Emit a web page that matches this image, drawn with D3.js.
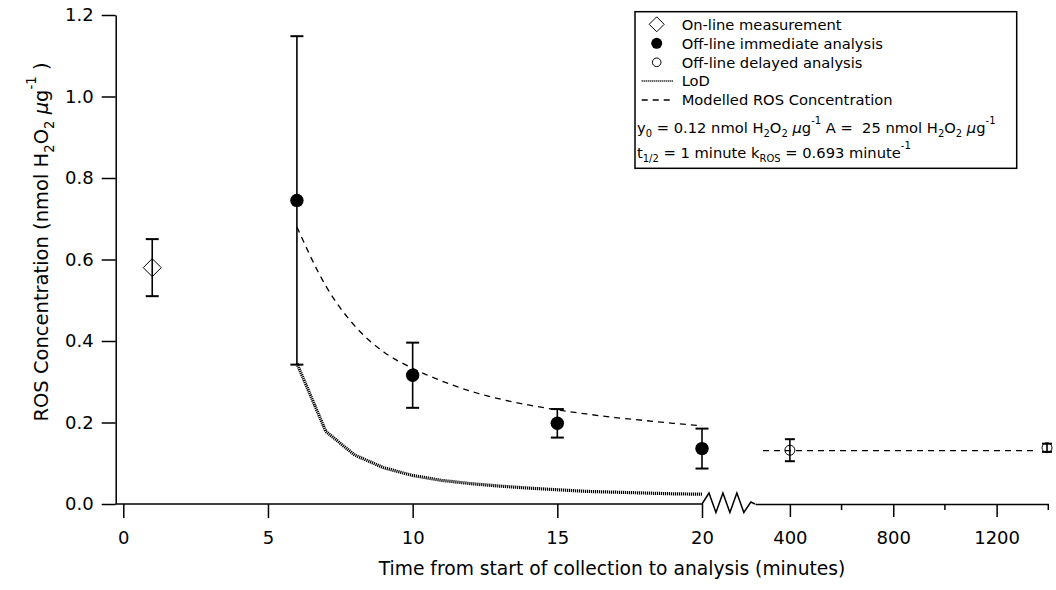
<!DOCTYPE html>
<html>
<head>
<meta charset="utf-8">
<script src="https://cdn.jsdelivr.net/npm/d3@7"></script>
<style>
  html, body { margin: 0; padding: 0; background: #fff; }
  svg { display: block; }
  text { font-family: "DejaVu Sans", Verdana, sans-serif; fill: #000; white-space: pre; }
</style>
</head>
<body>
<div id="chart"></div>
<script>
// ---------------- data ----------------
const onlineTime = [1];
const onlineValue = [0.58];
const onlineErr = [0.07];

const immediateTime = [6, 10, 15, 20];
const immediateValue = [0.745, 0.316, 0.198, 0.136];
const immediateErr = [0.403, 0.08, 0.035, 0.049];

const delayedTime = [400, 1395];
const delayedValue = [0.132, 0.138];
const delayedErr = [0.027, 0.01];

const modelTime = [6, 7, 8, 9, 10, 11, 12, 13, 14, 15, 16, 17, 18, 19, 20];
const modelValue = [0.68, 0.535, 0.437, 0.373, 0.333, 0.302, 0.277, 0.258, 0.243, 0.231, 0.221, 0.212, 0.205, 0.198, 0.192];
const modelLongTime = [296, 1360];
const modelLongValue = [0.131, 0.131];

const lodTime = [6, 7, 8, 9, 10, 11, 12, 13, 14, 15, 16, 17, 18, 19, 20];
const lodValue = [0.345, 0.178, 0.12, 0.089, 0.07, 0.058, 0.05, 0.044, 0.039, 0.035, 0.031, 0.029, 0.027, 0.025, 0.024];

const yTicks = [0, 0.2, 0.4, 0.6, 0.8, 1.0, 1.2];
const xTicksLeft = [0, 5, 10, 15, 20];
const xTicksRight = [400, 800, 1200];
const xMinorRight = [600, 1000, 1400];

// ---------------- layout ----------------
const W = 1056, H = 590;
const yAxisX = 115.7;
const svg = d3.select("#chart").append("svg").attr("width", W).attr("height", H);

const y = d3.scaleLinear().domain([0, 1.2]).range([504, 15]);
const xL = d3.scaleLinear().domain([0, 20]).range([123.3, 702]);
const xR = d3.scaleLinear().domain([265, 1400]).range([755, 1048.3]);
const xPos = t => (t <= 20 ? xL(t) : xR(t));

// ---------------- axes ----------------
const yAxis = svg.append("g").attr("transform", `translate(${yAxisX},0)`)
  .call(d3.axisLeft(y).tickValues(yTicks).tickFormat(d3.format(".1f")).tickSize(14).tickSizeOuter(0).tickPadding(8));
yAxis.selectAll("text").attr("font-size", 18).attr("font-family", "DejaVu Sans");
yAxis.selectAll("line, path").attr("stroke", "#000").attr("stroke-width", 1.5);

const y0 = y(0);
svg.append("line").attr("x1", yAxisX).attr("x2", xL.range()[1]).attr("y1", y0).attr("y2", y0)
  .attr("stroke", "#000").attr("stroke-width", 1.5);
const xAxisL = svg.append("g").attr("transform", `translate(0,${y0})`)
  .call(d3.axisBottom(xL).tickValues(xTicksLeft).tickFormat(d3.format("d")).tickSize(14).tickPadding(13));
xAxisL.select(".domain").remove();
xAxisL.selectAll("text").attr("font-size", 18).attr("font-family", "DejaVu Sans");
xAxisL.selectAll("line").attr("stroke", "#000").attr("stroke-width", 1.5);

const xAxisR = svg.append("g").attr("transform", `translate(0,${y0})`)
  .call(d3.axisBottom(xR).tickValues(xTicksRight).tickFormat(d3.format("d")).tickSize(13).tickSizeOuter(0).tickPadding(14));
xAxisR.selectAll("text").attr("font-size", 18).attr("font-family", "DejaVu Sans");
xAxisR.selectAll("line, path").attr("stroke", "#000").attr("stroke-width", 1.5);
svg.append("g").selectAll("line").data(xMinorRight).join("line")
  .attr("x1", d => xR(d)).attr("x2", d => xR(d)).attr("y1", y0).attr("y2", y0 + 6)
  .attr("stroke", "#000").attr("stroke-width", 1.5);

// axis break zigzag
{
  const a = xL.range()[1], b = xR.range()[0];
  const seg = (b - a) / 7.6;
  const pts = [[a, y0]];
  for (let i = 0; i < 6; i++) {
    pts.push([a + seg * (i + 1), i % 2 === 0 ? y0 - 11 : y0 + 8.5]);
  }
  pts.push([a + seg * 7, y0 - 2]);
  pts.push([b, y0]);
  svg.append("path").attr("d", d3.line()(pts)).attr("fill", "none")
    .attr("stroke", "#000").attr("stroke-width", 1.5);
}

// ---------------- lines ----------------
const lineLin = d3.line().x(d => xL(d[0])).y(d => y(d[1]));
const lineL = d3.line().x(d => xL(d[0])).y(d => y(d[1])).curve(d3.curveMonotoneX);
svg.append("path").attr("d", lineLin(d3.zip(lodTime, lodValue)))
  .attr("fill", "none").attr("stroke", "#000").attr("stroke-width", 3.2)
  .attr("stroke-dasharray", "1.2,0.8");
svg.append("path").attr("d", lineL(d3.zip(modelTime, modelValue)))
  .attr("fill", "none").attr("stroke", "#000").attr("stroke-width", 1.3)
  .attr("stroke-dasharray", "6,5");
const lineR = d3.line().x(d => xR(d[0])).y(d => y(d[1]));
svg.append("path").attr("d", lineR(d3.zip(modelLongTime, modelLongValue)))
  .attr("fill", "none").attr("stroke", "#000").attr("stroke-width", 1.3)
  .attr("stroke-dasharray", "6,5");

// ---------------- error bars ----------------
function errorBars(ts, vs, es, cap) {
  const g = svg.append("g");
  const data = d3.zip(ts, vs, es);
  g.selectAll("line.v").data(data).join("line").attr("class", "v")
    .attr("x1", d => xPos(d[0])).attr("x2", d => xPos(d[0]))
    .attr("y1", d => y(d[1] + d[2])).attr("y2", d => y(d[1] - d[2]))
    .attr("stroke", "#000").attr("stroke-width", 1.6);
  [1, -1].forEach(s => {
    const cls = s > 0 ? "ct" : "cb";
    g.selectAll("line." + cls).data(data).join("line").attr("class", cls)
      .attr("x1", d => xPos(d[0]) - cap).attr("x2", d => xPos(d[0]) + cap)
      .attr("y1", d => y(d[1] + s * d[2])).attr("y2", d => y(d[1] + s * d[2]))
      .attr("stroke", "#000").attr("stroke-width", 2);
  });
}
errorBars(onlineTime, onlineValue, onlineErr, 6.5);
errorBars(immediateTime, immediateValue, immediateErr, 6.5);
errorBars(delayedTime, delayedValue, delayedErr, 5);

// ---------------- markers ----------------
const diamond = (cx, cy, r) => `M${cx},${cy - r}L${cx + r},${cy}L${cx},${cy + r}L${cx - r},${cy}Z`;
svg.append("g").selectAll("path").data(d3.zip(onlineTime, onlineValue)).join("path")
  .attr("d", d => diamond(xPos(d[0]), y(d[1]), 9)).attr("fill", "none")
  .attr("stroke", "#000").attr("stroke-width", 1);
svg.append("g").selectAll("circle").data(d3.zip(immediateTime, immediateValue)).join("circle")
  .attr("cx", d => xPos(d[0])).attr("cy", d => y(d[1])).attr("r", 6.7).attr("fill", "#000");
svg.append("g").selectAll("circle").data(d3.zip(delayedTime, delayedValue)).join("circle")
  .attr("cx", d => xPos(d[0])).attr("cy", d => y(d[1])).attr("r", 5).attr("fill", "none")
  .attr("stroke", "#000").attr("stroke-width", 1);

// ---------------- rich text helper ----------------
function rich(textSel, parts, size) {
  let off = 0;
  parts.forEach(([s, t]) => {
    const target = t === "sub" ? size * 0.3 : t === "sup" ? -size * 0.6 : 0;
    const ts = textSel.append("tspan").text(s).attr("dy", target - off);
    off = target;
    if (t === "sub" || t === "sup") ts.attr("font-size", size * 0.68);
    if (t === "it") ts.attr("font-style", "italic");
  });
}

// ---------------- axis titles ----------------
svg.append("text").attr("x", 612).attr("y", 575).attr("text-anchor", "middle")
  .attr("font-size", 18.7).text("Time from start of collection to analysis (minutes)");

const yt = svg.append("text").attr("transform", "translate(48,242) rotate(-90)")
  .attr("text-anchor", "middle").attr("font-size", 19.5);
rich(yt, [["ROS Concentration (nmol H", "n"], ["2", "sub"], ["O", "n"], ["2", "sub"], [" ", "n"], ["\u00b5", "it"], ["g", "n"], ["-1", "sup"], [" )", "n"]], 19.5);

// ---------------- legend ----------------
const lg = svg.append("g");
lg.append("rect").attr("x", 635).attr("y", 11.7).attr("width", 381.7).attr("height", 156.6)
  .attr("fill", "#fff").attr("stroke", "#000").attr("stroke-width", 1.5);
const lfs = 14.7, symX = 656.7, txtX = 681.7;
const rowsY = [24.3, 43.3, 62.3, 81, 100];
const labels = ["On-line measurement", "Off-line immediate analysis", "Off-line delayed analysis", "LoD", "Modelled ROS Concentration"];
lg.selectAll("text.lab").data(labels).join("text").attr("class", "lab")
  .attr("x", txtX).attr("y", (d, i) => rowsY[i] + 5.3).attr("font-size", lfs).text(d => d);
lg.append("path").attr("d", diamond(symX, rowsY[0], 7.5)).attr("fill", "none").attr("stroke", "#000").attr("stroke-width", 1);
lg.append("circle").attr("cx", symX).attr("cy", rowsY[1]).attr("r", 5.5).attr("fill", "#000");
lg.append("circle").attr("cx", symX).attr("cy", rowsY[2]).attr("r", 4.3).attr("fill", "none").attr("stroke", "#000").attr("stroke-width", 1);
lg.append("line").attr("x1", 641.7).attr("x2", 672.7).attr("y1", rowsY[3]).attr("y2", rowsY[3])
  .attr("stroke", "#222").attr("stroke-width", 2).attr("stroke-dasharray", "1,1");
lg.append("line").attr("x1", 641.7).attr("x2", 672.7).attr("y1", rowsY[4]).attr("y2", rowsY[4])
  .attr("stroke", "#000").attr("stroke-width", 1.3).attr("stroke-dasharray", "6,5");

const f1 = lg.append("text").attr("x", 637).attr("y", 133).attr("font-size", lfs);
rich(f1, [["y", "n"], ["0", "sub"], [" = 0.12 nmol H", "n"], ["2", "sub"], ["O", "n"], ["2", "sub"], [" ", "n"], ["\u00b5", "it"], ["g", "n"], ["-1", "sup"], [" A =  25 nmol H", "n"], ["2", "sub"], ["O", "n"], ["2", "sub"], [" ", "n"], ["\u00b5", "it"], ["g", "n"], ["-1", "sup"]], lfs);
const f2 = lg.append("text").attr("x", 637).attr("y", 158).attr("font-size", lfs);
rich(f2, [["t", "n"], ["1/2", "sub"], [" = 1 minute k", "n"], ["ROS", "sub"], [" = 0.693 minute", "n"], ["-1", "sup"]], lfs);
</script>
</body>
</html>
